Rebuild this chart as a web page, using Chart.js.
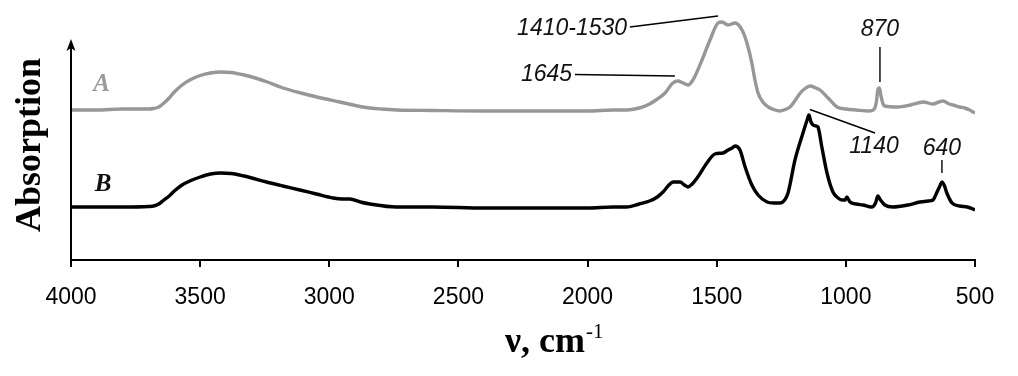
<!DOCTYPE html>
<html>
<head>
<meta charset="utf-8">
<script src="https://cdn.jsdelivr.net/npm/chart.js@4.4.1/dist/chart.umd.min.js"></script>
<style>
  html, body { margin: 0; padding: 0; background: #fff; }
  #wrap { width: 1018px; height: 376px; }
</style>
</head>
<body>
<div id="wrap"><canvas id="ir" width="1018" height="376"></canvas></div>
<script>
// spectrum A (gray) - wavenumber, cm-1 / absorption (offset units)
const aWave = [4000, 3900, 3800, 3700, 3680, 3660, 3640, 3620, 3600, 3570, 3540, 3500, 3460, 3420, 3380, 3330, 3280, 3240, 3179, 3110, 3048, 2959, 2870, 2800, 2738, 2600, 2400, 2200, 2000, 1900, 1850, 1800, 1760, 1730, 1700, 1670, 1650, 1630, 1611, 1592, 1575, 1557, 1526, 1495, 1480, 1456, 1429, 1402, 1383, 1364, 1352, 1340, 1320, 1300, 1280, 1255, 1235, 1216, 1195, 1178, 1158, 1139, 1120, 1100, 1069, 1034, 1000, 960, 907, 890, 882, 876, 870, 864, 856, 849, 800, 750, 700, 663, 640, 624, 600, 585, 560, 540, 520, 508, 500];
const aAbs  = [1.50, 1.50, 1.51, 1.51, 1.515, 1.53, 1.57, 1.62, 1.68, 1.75, 1.80, 1.845, 1.87, 1.88, 1.875, 1.85, 1.815, 1.78, 1.72, 1.67, 1.63, 1.58, 1.53, 1.51, 1.50, 1.495, 1.49, 1.49, 1.49, 1.50, 1.50, 1.52, 1.56, 1.61, 1.67, 1.77, 1.79, 1.77, 1.75, 1.80, 1.89, 2.00, 2.20, 2.37, 2.38, 2.35, 2.37, 2.30, 2.17, 1.97, 1.80, 1.67, 1.575, 1.53, 1.505, 1.49, 1.505, 1.53, 1.60, 1.665, 1.715, 1.74, 1.725, 1.70, 1.62, 1.53, 1.51, 1.50, 1.49, 1.51, 1.58, 1.70, 1.72, 1.64, 1.56, 1.54, 1.53, 1.55, 1.58, 1.56, 1.58, 1.59, 1.56, 1.55, 1.53, 1.52, 1.50, 1.48, 1.47];

// spectrum B (black)
const bWave = [4000, 3900, 3800, 3700, 3680, 3660, 3640, 3620, 3600, 3570, 3540, 3500, 3460, 3420, 3380, 3330, 3300, 3243, 3180, 3114, 3050, 2985, 2950, 2920, 2880, 2842, 2740, 2600, 2400, 2200, 2000, 1900, 1850, 1800, 1760, 1730, 1708, 1685, 1669, 1642, 1625, 1611, 1595, 1576, 1538, 1507, 1476, 1456, 1440, 1429, 1410, 1390, 1364, 1340, 1305, 1280, 1255, 1237, 1224, 1197, 1166, 1150, 1143, 1135, 1127, 1115, 1108, 1093, 1073, 1050, 1030, 1015, 1003, 996, 984, 960, 934, 900, 885, 876, 866, 849, 818, 760, 713, 680, 663, 647, 636, 628, 618, 609, 589, 560, 530, 508, 500];
const bAbs  = [0.53, 0.53, 0.53, 0.535, 0.54, 0.56, 0.60, 0.64, 0.69, 0.75, 0.79, 0.83, 0.86, 0.87, 0.865, 0.84, 0.82, 0.78, 0.74, 0.70, 0.66, 0.62, 0.61, 0.61, 0.58, 0.56, 0.53, 0.53, 0.52, 0.52, 0.52, 0.53, 0.53, 0.56, 0.59, 0.63, 0.68, 0.75, 0.78, 0.78, 0.75, 0.73, 0.76, 0.82, 0.97, 1.06, 1.07, 1.10, 1.12, 1.14, 1.10, 0.93, 0.75, 0.65, 0.58, 0.57, 0.57, 0.60, 0.67, 1.00, 1.27, 1.40, 1.45, 1.38, 1.35, 1.34, 1.33, 1.13, 0.87, 0.68, 0.62, 0.60, 0.60, 0.63, 0.58, 0.56, 0.55, 0.53, 0.57, 0.64, 0.60, 0.55, 0.53, 0.55, 0.58, 0.59, 0.60, 0.68, 0.74, 0.78, 0.74, 0.67, 0.57, 0.54, 0.53, 0.51, 0.50];

const xTicks = [4000, 3500, 3000, 2500, 2000, 1500, 1000, 500];
const seriesNames = ['A', 'B'];

// peak labels: text, anchor (wavenumber, absorption), leader line
const peakNotes = [
  { text: '1410-1530', x: 1847, y: 2.315, align: 'right',  line: [1836, 2.33, 1495, 2.44] },
  { text: '1645',      x: 2060, y: 1.85,  align: 'right',  line: [2049, 1.855, 1662, 1.84] },
  { text: '870',       x: 868,  y: 2.305, align: 'center', line: [868, 2.13, 868, 1.78] },
  { text: '1140',      x: 891,  y: 1.135, align: 'center', line: [1139, 1.505, 887, 1.27] },
  { text: '640',       x: 628,  y: 1.115, align: 'center', line: [628, 1.00, 628, 0.87] }
];
const seriesTags = [
  { text: seriesNames[0], x: 3882, y: 1.755, color: '#9a9a9a' },
  { text: seriesNames[1], x: 3876, y: 0.755, color: '#111' }
];

function pts(w, v) { return w.map((x, i) => ({ x: x, y: v[i] })); }

const decor = {
  id: 'decor',
  afterDraw(chart) {
    const ctx = chart.ctx, ca = chart.chartArea;
    const xs = chart.scales.x, ys = chart.scales.y;
    ctx.save();

    // y axis with arrow
    ctx.strokeStyle = '#000';
    ctx.fillStyle = '#000';
    ctx.lineWidth = 2;
    ctx.beginPath();
    ctx.moveTo(ca.left, ca.bottom + 1);
    ctx.lineTo(ca.left, 46);
    ctx.stroke();
    ctx.beginPath();
    ctx.moveTo(ca.left, 39);
    ctx.lineTo(ca.left + 4.5, 51);
    ctx.lineTo(ca.left, 48);
    ctx.lineTo(ca.left - 4.5, 51);
    ctx.closePath();
    ctx.fill();

    // peak labels
    ctx.font = 'italic 23px "Liberation Sans", Arial, sans-serif';
    ctx.textBaseline = 'middle';
    ctx.lineWidth = 1.4;
    peakNotes.forEach(n => {
      ctx.fillStyle = '#111';
      ctx.textAlign = n.align;
      ctx.fillText(n.text, xs.getPixelForValue(n.x), ys.getPixelForValue(n.y));
      ctx.beginPath();
      ctx.moveTo(xs.getPixelForValue(n.line[0]), ys.getPixelForValue(n.line[1]));
      ctx.lineTo(xs.getPixelForValue(n.line[2]), ys.getPixelForValue(n.line[3]));
      ctx.stroke();
    });

    // curve tags A, B
    ctx.font = 'italic bold 25px "Liberation Serif", "Times New Roman", serif';
    ctx.textAlign = 'center';
    seriesTags.forEach(t => {
      ctx.fillStyle = t.color;
      ctx.fillText(t.text, xs.getPixelForValue(t.x), ys.getPixelForValue(t.y));
    });

    // axis titles
    ctx.fillStyle = '#000';
    ctx.textBaseline = 'alphabetic';
    ctx.font = 'bold 36px "Liberation Serif", "Times New Roman", serif';
    ctx.save();
    ctx.translate(40, (ca.top + ca.bottom) / 2 + 10);
    ctx.rotate(-Math.PI / 2);
    ctx.textAlign = 'center';
    ctx.fillText('Absorption', 0, 0);
    ctx.restore();

    ctx.textAlign = 'left';
    const main = '\u03bd, cm';
    ctx.fillText(main, 505, 352);
    const w = ctx.measureText(main).width;
    ctx.font = '21px "Liberation Serif", "Times New Roman", serif';
    ctx.fillText('-1', 505 + w + 1, 338);

    ctx.restore();
  }
};

new Chart(document.getElementById('ir').getContext('2d'), {
  type: 'line',
  data: {
    datasets: [
      { label: seriesNames[0], data: pts(aWave, aAbs), borderColor: '#979797', borderWidth: 3.4, pointRadius: 0, cubicInterpolationMode: 'monotone', fill: false },
      { label: seriesNames[1], data: pts(bWave, bAbs), borderColor: '#000', borderWidth: 3.4, pointRadius: 0, cubicInterpolationMode: 'monotone', fill: false }
    ]
  },
  options: {
    responsive: false,
    animation: false,
    layout: { padding: { left: 71, right: 43, top: 10, bottom: 0 } },
    plugins: { legend: { display: false }, tooltip: { enabled: false } },
    scales: {
      x: {
        type: 'linear',
        reverse: true,
        min: 500,
        max: 4000,
        afterFit(s) { s.height = 116; },
        afterBuildTicks(s) { s.ticks = xTicks.map(v => ({ value: v })); },
        ticks: { color: '#000', font: { family: '"Liberation Sans", Arial, sans-serif', size: 23 }, padding: 17, maxRotation: 0, autoSkip: false, callback: v => String(v) },
        grid: { drawOnChartArea: false, drawTicks: true, tickLength: 7, color: '#000', lineWidth: 2 },
        border: { display: true, color: '#000', width: 2 }
      },
      y: { display: false, min: 0, max: 2.5 }
    }
  },
  plugins: [decor]
});
</script>
</body>
</html>
